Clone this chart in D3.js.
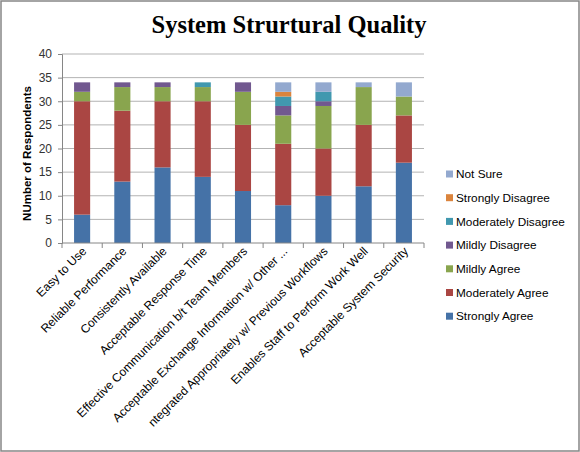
<!DOCTYPE html>
<html lang="en">
<head>
    <meta charset="UTF-8">
    <title>System Strurtural Quality</title>
    <script src="https://d3js.org/d3.v7.min.js"></script>
    <style>
        body, html {
            margin: 0;
            padding: 0;
            background: #fff;
        }
        svg {
            display: block;
        }
        .tick-label {
            font-family: "Liberation Sans", "DejaVu Sans", sans-serif;
            font-size: 12px;
            fill: #000;
        }
        .legend {
            font-family: "Liberation Sans", sans-serif;
            font-size: 11.8px;
        }
    </style>
</head>
<body>
    <svg width="580" height="452"></svg>
    <script>
        // categories on the x axis, in drawing order
        const categories = [
            "Easy to Use",
            "Reliable Performance",
            "Consistently Available",
            "Acceptable Response Time",
            "Effective Communication b/t Team Members",
            "Acceptable Exchange Information w/ Other ...",
            "ntegrated Appropriately w/ Previous Workflows",
            "Enables Staff to Perform Work Well",
            "Acceptable System Security"
        ];

        // stack order, bottom to top
        const seriesNames = ["Strongly Agree", "Moderately Agree", "Mildly Agree", "Mildly Disagree",
            "Moderately Disagree", "Strongly Disagree", "Not Sure"];
        const seriesColors = ["#4572A7", "#AA4643", "#89A54E", "#71588F", "#4198AF", "#DB843D", "#93A9CF"];

        const stronglyAgree      = [6, 13, 16, 14, 11, 8, 10, 12, 17];
        const moderatelyAgree    = [24, 15, 14, 16, 14, 13, 10, 13, 10];
        const mildlyAgree        = [2, 5, 3, 3, 7, 6, 9, 8, 4];
        const mildlyDisagree     = [2, 1, 1, 0, 2, 2, 1, 0, 0];
        const moderatelyDisagree = [0, 0, 0, 1, 0, 2, 2, 0, 0];
        const stronglyDisagree   = [0, 0, 0, 0, 0, 1, 0, 0, 0];
        const notSure            = [0, 0, 0, 0, 0, 2, 2, 1, 3];

        const yTicks = [0, 5, 10, 15, 20, 25, 30, 35, 40];

        const seriesValues = [stronglyAgree, moderatelyAgree, mildlyAgree, mildlyDisagree,
            moderatelyDisagree, stronglyDisagree, notSure];

        // table for d3.stack
        const table = categories.map((c, i) => {
            const row = {category: c};
            seriesNames.forEach((s, j) => row[s] = seriesValues[j][i]);
            return row;
        });

        const svg = d3.select("svg");
        const W = 580, H = 452;

        // outer chart border
        svg.append("rect")
            .attr("x", 1).attr("y", 1)
            .attr("width", W - 2).attr("height", H - 2)
            .attr("fill", "#fff")
            .attr("stroke", "#868686")
            .attr("stroke-width", 1.5);

        const plot = {left: 62, right: 424, top: 54, bottom: 243};

        const x = d3.scaleBand()
            .domain(categories)
            .range([plot.left, plot.right])
            .paddingInner(0.6)
            .paddingOuter(0.3);

        const y = d3.scaleLinear()
            .domain([0, 40])
            .range([plot.bottom, plot.top]);

        const color = d3.scaleOrdinal().domain(seriesNames).range(seriesColors);

        // title
        svg.append("text")
            .attr("x", 289)
            .attr("y", 33)
            .attr("text-anchor", "middle")
            .style("font-family", "'Liberation Serif', serif")
            .style("font-weight", "bold")
            .style("font-size", "24.5px")
            .text("System Strurtural Quality");

        // gridlines
        svg.append("g")
            .selectAll("line")
            .data(yTicks.filter(d => d > 0))
            .enter().append("line")
            .attr("x1", plot.left).attr("x2", plot.right)
            .attr("y1", d => y(d)).attr("y2", d => y(d))
            .attr("stroke", "#B3B3B3")
            .attr("stroke-width", 1);

        // bars
        const layers = d3.stack().keys(seriesNames)(table);
        svg.append("g")
            .selectAll("g")
            .data(layers)
            .enter().append("g")
            .attr("fill", d => color(d.key))
            .selectAll("rect")
            .data(d => d.filter(p => p[1] > p[0]))
            .enter().append("rect")
            .attr("x", d => x(d.data.category))
            .attr("width", x.bandwidth())
            .attr("y", d => y(d[1]))
            .attr("height", d => y(d[0]) - y(d[1]));

        // y axis
        const yAxis = svg.append("g")
            .attr("transform", `translate(${plot.left},0)`)
            .call(d3.axisLeft(y).tickValues(yTicks).tickSize(4).tickPadding(6));
        yAxis.select(".domain").attr("stroke", "#868686");
        yAxis.selectAll(".tick line").attr("stroke", "#868686");
        yAxis.selectAll(".tick text")
            .attr("class", "tick-label")
            .style("font-size", "12px")
            .style("fill", "#333");

        // x axis: ticks sit between the bands
        const bandStep = (plot.right - plot.left) / categories.length;
        const xAxis = svg.append("g");
        xAxis.append("line")
            .attr("x1", plot.left).attr("x2", plot.right)
            .attr("y1", plot.bottom).attr("y2", plot.bottom)
            .attr("stroke", "#868686");
        xAxis.selectAll(".xtick")
            .data(d3.range(categories.length + 1))
            .enter().append("line")
            .attr("x1", i => plot.left + i * bandStep)
            .attr("x2", i => plot.left + i * bandStep)
            .attr("y1", plot.bottom).attr("y2", plot.bottom + 5)
            .attr("stroke", "#868686");

        xAxis.selectAll(".xlabel")
            .data(categories)
            .enter().append("text")
            .attr("class", "tick-label")
            .attr("text-anchor", "end")
            .attr("transform", d => `translate(${x(d) + x.bandwidth() / 2 + 5},${plot.bottom + 9}) rotate(-45)`)
            .text(d => d);

        // y axis label
        svg.append("text")
            .attr("transform", `translate(31,${(plot.top + plot.bottom) / 2 + 5}) rotate(-90)`)
            .attr("text-anchor", "middle")
            .style("font-family", "'Liberation Sans', sans-serif")
            .style("font-weight", "bold")
            .style("font-size", "11.5px")
            .text("NUmber of Respondents");

        // legend, top entry is the last series
        const legend = svg.append("g")
            .attr("class", "legend")
            .selectAll("g")
            .data(seriesNames.slice().reverse())
            .enter().append("g")
            .attr("transform", (d, i) => `translate(446,${174 + i * 23.7})`);

        legend.append("rect")
            .attr("x", 0).attr("y", -3.5)
            .attr("width", 7).attr("height", 7)
            .attr("fill", d => color(d));

        legend.append("text")
            .attr("x", 10)
            .attr("dy", "0.35em")
            .text(d => d);
    </script>
</body>
</html>
